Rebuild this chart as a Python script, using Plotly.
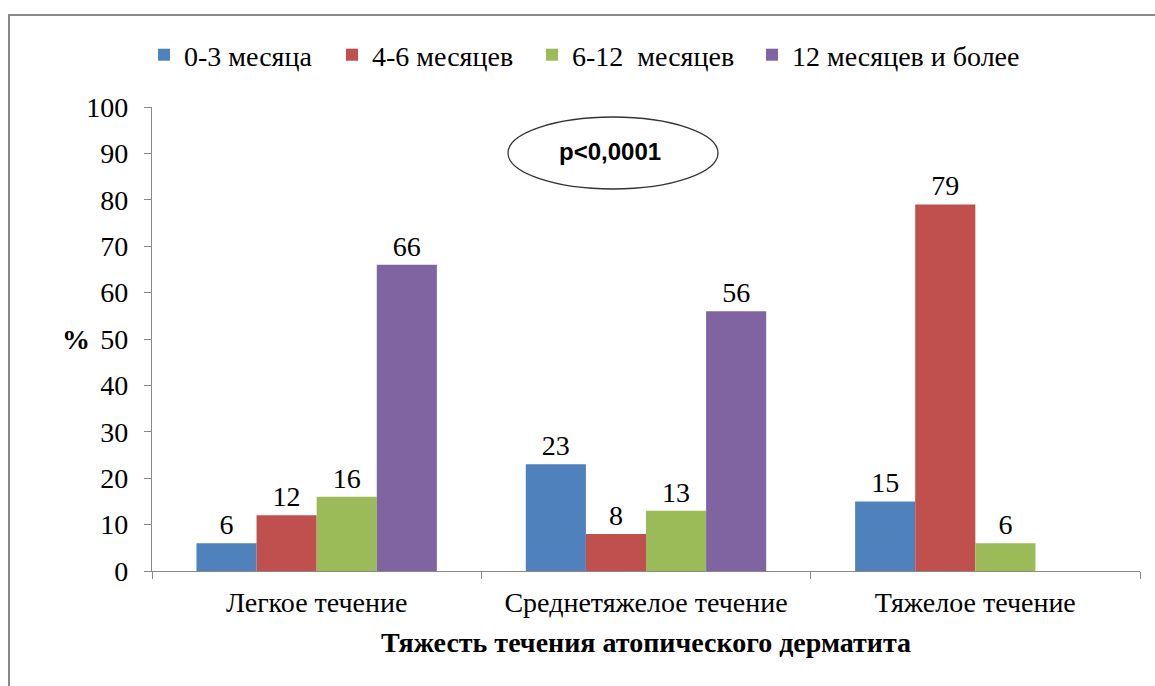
import plotly.graph_objects as go

categories = ["Легкое течение", "Среднетяжелое течение", "Тяжелое течение"]
series_names = ["0-3 месяца", "4-6 месяцев", "6-12  месяцев", "12 месяцев и более"]
v_0_3 = [6, 23, 15]
v_4_6 = [12, 8, 79]
v_6_12 = [16, 13, 6]
v_12_plus = [66, 56, None]
colors = ["#4F81BD", "#C0504D", "#9BBB59", "#8064A2"]

series_values = [v_0_3, v_4_6, v_6_12, v_12_plus]

SERIF = "Times New Roman, Liberation Serif, serif"
FS = 28

# plot area spans pixels 152..1140 horizontally, 107..571 vertically
W, H = 1155, 686
L, R, T, B = 152, 1140, 107, 571

def px(x):
    return (x - L) / (R - L)

def py(y):
    return (B - y) / (B - T)

# each series gets its own legend box so the entries sit at fixed spots
legend_ids = ["legend", "legend2", "legend3", "legend4"]
legend_text_x = [186, 374, 574, 794]

fig = go.Figure()
for name, vals, col, lid in zip(series_names, series_values, colors, legend_ids):
    fig.add_trace(go.Bar(
        name=name, x=categories, y=vals, marker_color=col,
        marker_line_width=0, legend=lid,
        text=[("" if v is None else str(v)) for v in vals],
        textposition="outside", cliponaxis=False,
        textfont=dict(family=SERIF, size=FS, color="black"),
    ))

legend_layout = {}
for lid, tx in zip(legend_ids, legend_text_x):
    legend_layout[lid] = dict(
        x=px(tx - 42), y=py(55), xanchor="left", yanchor="middle",
        orientation="h", font=dict(family=SERIF, size=FS, color="black"),
        itemwidth=30, bgcolor="rgba(0,0,0,0)",
    )

fig.update_layout(
    width=W, height=H,
    margin=dict(l=L, r=W - R, t=T, b=H - B),
    paper_bgcolor="white", plot_bgcolor="white",
    barmode="group", bargap=0.27, bargroupgap=0,
    font=dict(family=SERIF, size=FS, color="black"),
    showlegend=True,
    xaxis=dict(showline=True, linecolor="#888888", linewidth=1.3, ticks="outside",
               tickcolor="#888888", ticklen=7, tickson="boundaries",
               tickfont=dict(family=SERIF, size=FS), showgrid=False, ticklabelstandoff=6,
               title=dict(text="<b>Тяжесть течения атопического дерматита</b>",
                          font=dict(family=SERIF, size=FS), standoff=15)),
    yaxis=dict(range=[0, 100], dtick=10, showline=True, linecolor="#888888", linewidth=1.3,
               ticks="outside", tickcolor="#888888", ticklen=7, showgrid=False,
               zeroline=False, tickfont=dict(family=SERIF, size=FS), ticklabelstandoff=10),
    **legend_layout,
)

# outer frame
fig.add_shape(type="rect", xref="paper", yref="paper",
              x0=px(9), x1=px(1170), y0=py(700), y1=py(15),
              line=dict(color="#888888", width=2), fillcolor="rgba(0,0,0,0)", layer="below")

# significance ellipse
fig.add_shape(type="circle", xref="paper", yref="paper",
              x0=px(508), x1=px(718), y0=py(189), y1=py(117),
              line=dict(color="#333333", width=1.3), fillcolor="white")
fig.add_annotation(xref="paper", yref="paper", x=px(610), y=py(151), yanchor="middle",
                   text="<b>p<0,0001</b>", showarrow=False,
                   font=dict(family="Liberation Sans, Arial, sans-serif", size=24, color="black"))

fig.add_annotation(xref="paper", yref="paper", x=px(60), y=py(339), text="<b>%</b>",
                   showarrow=False, font=dict(family=SERIF, size=FS, color="black"))

fig.write_html("out.html")
